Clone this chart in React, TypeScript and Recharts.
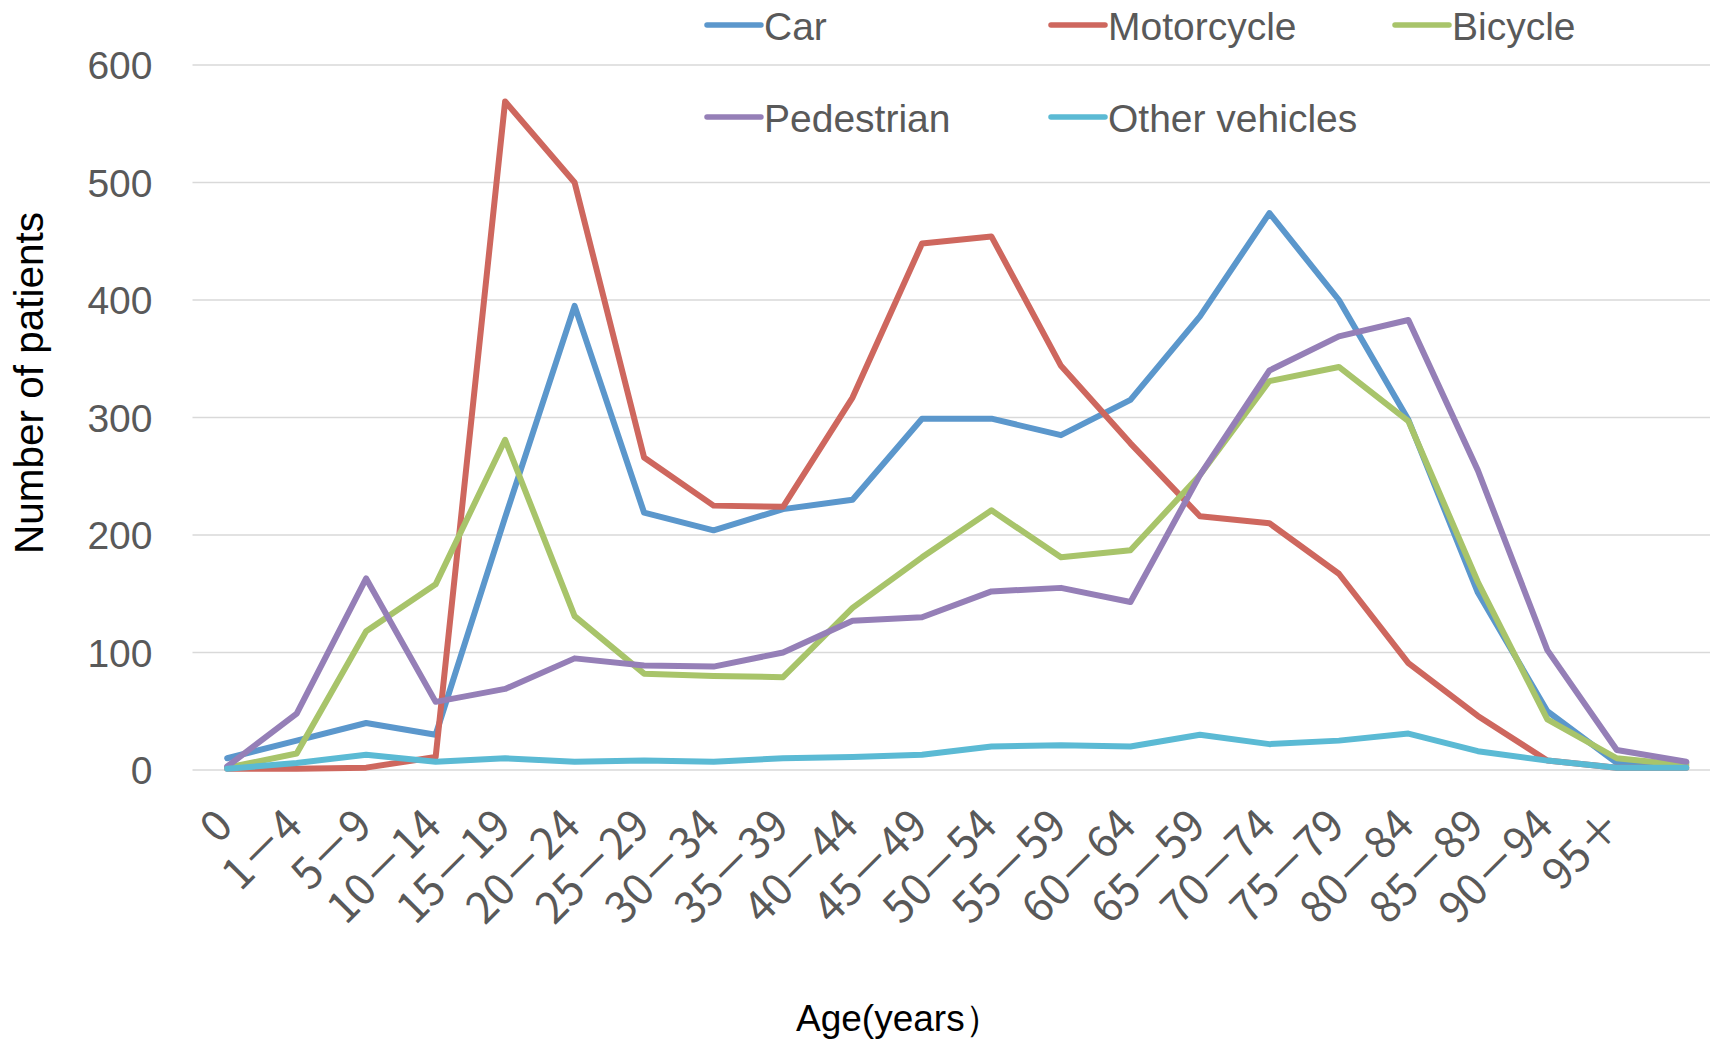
import React from 'react';
import { LineChart, Line, XAxis, YAxis, CartesianGrid } from 'recharts';

// age groups (last slot has no label in the original)
const ageGroups = ['0', '1－4', '5－9', '10－14', '15－19', '20－24', '25－29', '30－34', '35－39', '40－44', '45－49',
    '50－54', '55－59', '60－64', '65－59', '70－74', '75－79', '80－84', '85－89', '90－94', '95＋', ''];

const car = [10, 25, 40, 30, 215, 395, 219, 204, 222, 230, 299, 299, 285, 315, 386, 474, 400, 298, 151, 50, 6, 6];
const motorcycle = [1, 1, 2, 11, 569, 500, 266, 225, 224, 317, 448, 454, 344, 278, 216, 210, 167, 91, 46, 8, 2, 2];
const bicycle = [2, 14, 118, 158, 281, 131, 82, 80, 79, 138, 181, 221, 181, 187, 251, 331, 343, 297, 160, 43, 10, 4];
const pedestrian = [3, 48, 163, 58, 69, 95, 89, 88, 100, 127, 130, 152, 155, 143, 251, 340, 369, 383, 255, 102, 17, 7];
const otherVehicles = [1, 6, 13, 7, 10, 7, 8, 7, 10, 11, 13, 20, 21, 20, 30, 22, 25, 31, 16, 8, 2, 2];

const yTicks = [0, 100, 200, 300, 400, 500, 600];

const series = [
    { key: 'car', name: 'Car', color: '#5B97CC', values: car },
    { key: 'motorcycle', name: 'Motorcycle', color: '#CE675E', values: motorcycle },
    { key: 'bicycle', name: 'Bicycle', color: '#A8C46A', values: bicycle },
    { key: 'pedestrian', name: 'Pedestrian', color: '#957FB7', values: pedestrian },
    { key: 'other', name: 'Other vehicles', color: '#5BBAD4', values: otherVehicles },
];

const rows = ageGroups.map((age, i) => {
    const row: Record<string, string | number> = { age };
    series.forEach(s => { row[s.key] = s.values[i]; });
    return row;
});

const labelFont = "'Liberation Sans', Arial, sans-serif";

const AgeTick = (props: any) => {
    const { x, y, payload } = props;
    const tx = x + 8;
    const ty = y + 58;
    return (
        <text x={tx} y={ty} transform={`rotate(-45, ${tx}, ${ty})`} textAnchor="end"
            fill="#595959" fontSize={43} fontFamily="'Noto Sans CJK JP', sans-serif">
            {payload.value}
        </text>
    );
};

const CountTick = (props: any) => {
    const { x, y, payload } = props;
    return (
        <text x={x} y={y + 14} textAnchor="end" fill="#595959" fontSize={39} fontFamily={labelFont}>
            {payload.value}
        </text>
    );
};

const App: React.FC = () => {
    return (
        <div style={{ position: 'fixed', left: 0, top: 0, width: 1710, height: 1040, overflow: 'hidden', background: '#fff' }}>
            <LineChart width={1721} height={1040} data={rows} margin={{ top: 65, right: 0, bottom: 0, left: 0 }}>
                <CartesianGrid vertical={false} stroke="#D9D9D9" strokeWidth={1.5} />
                <XAxis dataKey="age" interval={0} height={270} tickLine={false} axisLine={false}
                    tickSize={0} tickMargin={0} padding={{ left: 34.7, right: 34.7 }} tick={<AgeTick />} />
                <YAxis domain={[0, 600]} ticks={yTicks} width={192.5} tickLine={false} axisLine={false}
                    tickSize={0} tickMargin={40} tick={<CountTick />} />
                {series.map(s => (
                    <Line key={s.key} type="linear" dataKey={s.key} name={s.name} stroke={s.color} strokeWidth={6}
                        strokeLinejoin="round" strokeLinecap="round" dot={false} activeDot={false} isAnimationActive={false} />
                ))}
                {/* legend, two rows like the original */}
                <g>
                    {series.map((s, i) => {
                        const lx = 707 + (i % 3) * 344;
                        const ly = i < 3 ? 25 : 117;
                        return (
                            <g key={s.key}>
                                <line x1={lx} x2={lx + 54} y1={ly} y2={ly} stroke={s.color} strokeWidth={5.5} strokeLinecap="round" />
                                <text x={lx + 57} y={ly + 15} fill="#595959" fontSize={39} fontFamily={labelFont}>{s.name}</text>
                            </g>
                        );
                    })}
                </g>
                <text x={0} y={0} transform="translate(43, 383) rotate(-90)" textAnchor="middle" fill="#000"
                    fontSize={40.5} fontFamily={labelFont}>Number of patients</text>
                <text x={796} y={1031} fill="#000" fontSize={37} fontFamily={labelFont}>Age(years）</text>
            </LineChart>
        </div>
    );
};

export default App;
